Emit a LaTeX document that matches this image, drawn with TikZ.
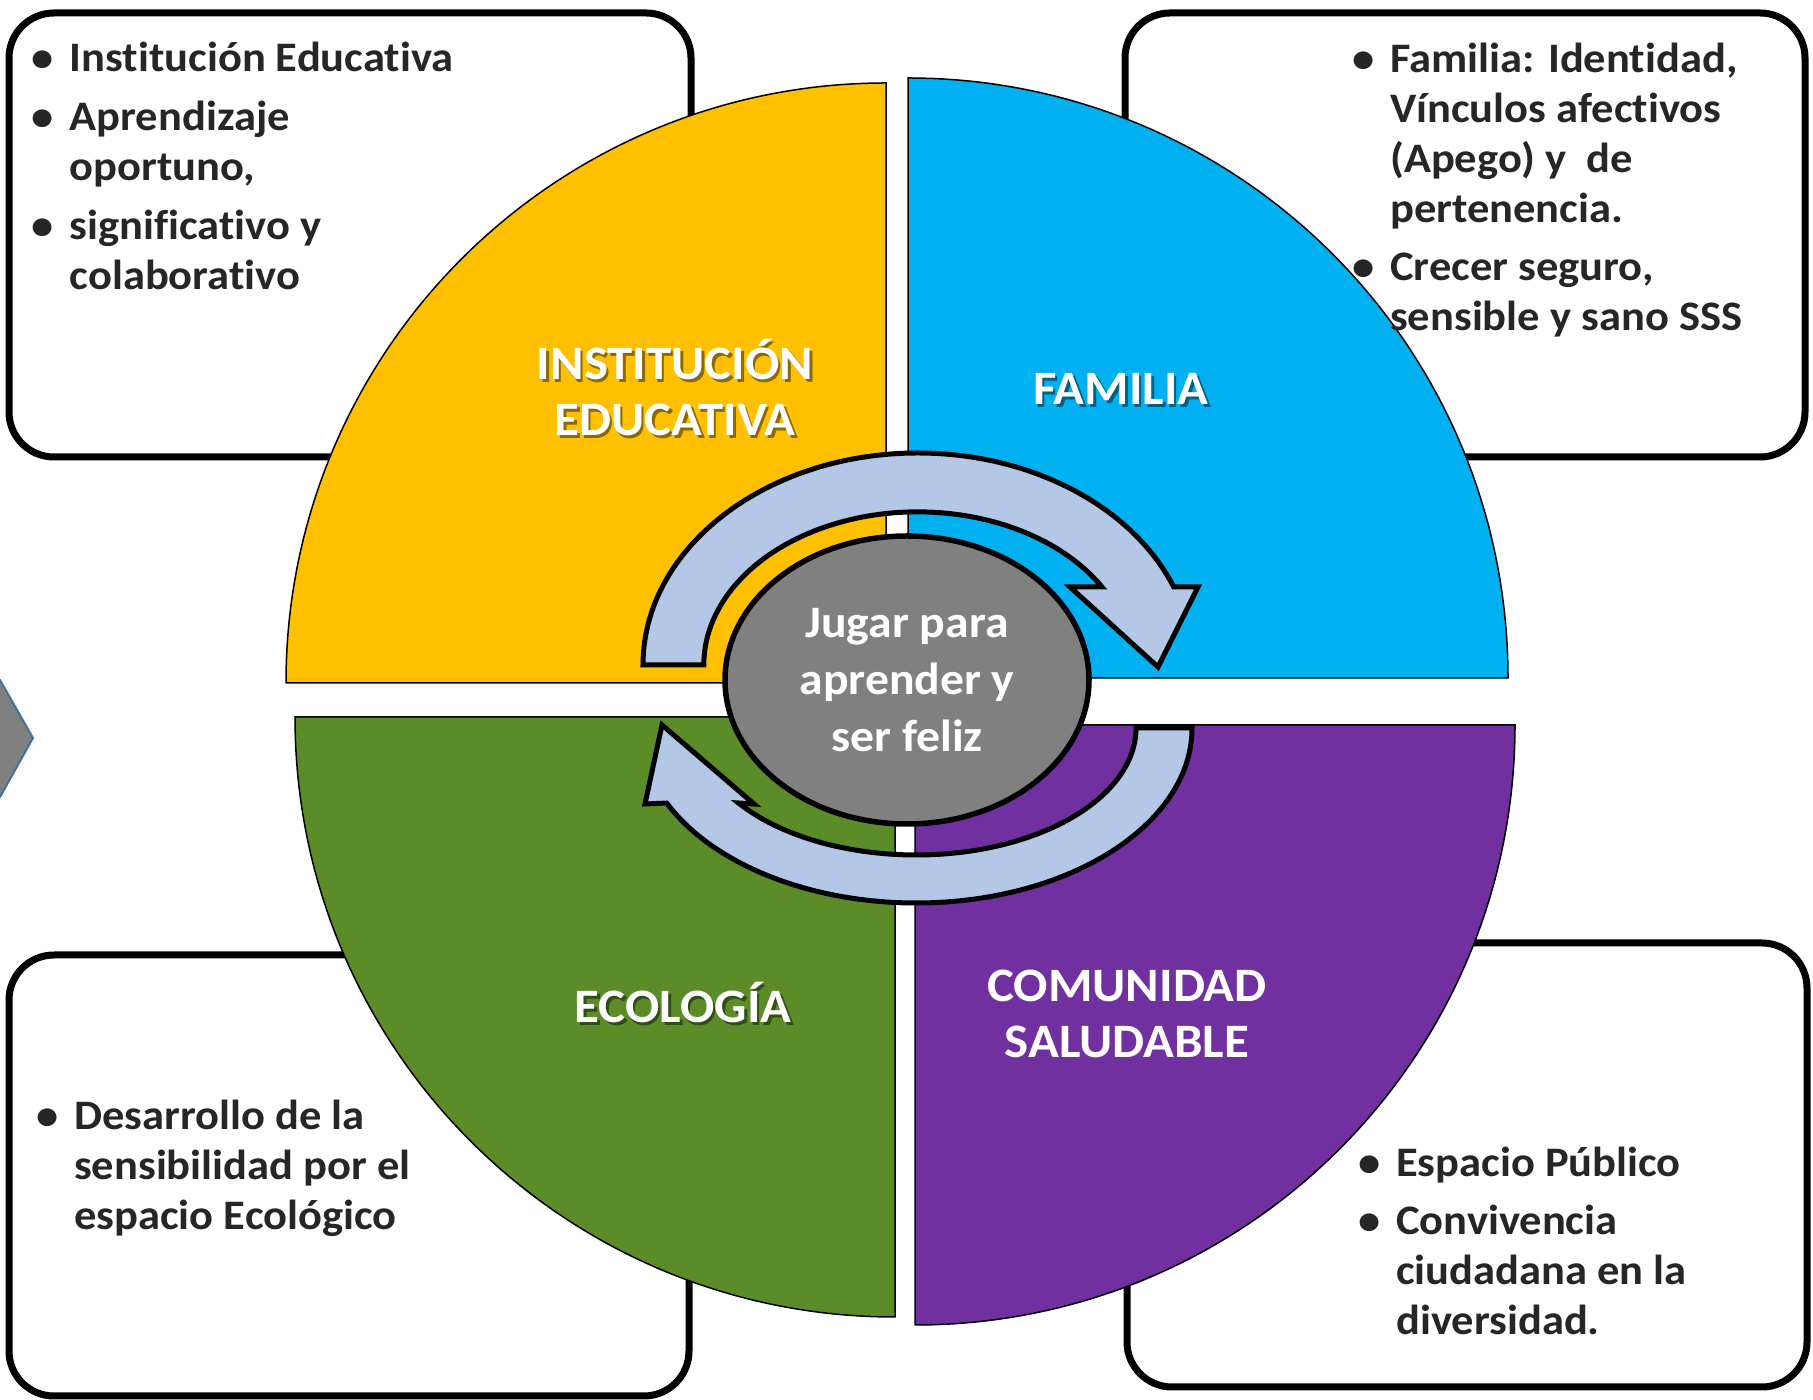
\documentclass[tikz,border=0pt]{standalone}
\usepackage{fontspec}
\setmainfont{Carlito}[FakeStretch=1.06, Ligatures=NoCommon]
\usetikzlibrary{shapes.geometric}
\definecolor{amarillo}{HTML}{FFC000}
\definecolor{celeste}{HTML}{00B0F0}
\definecolor{verde}{HTML}{5B8C27}
\definecolor{morado}{HTML}{7030A0}
\definecolor{flecha}{HTML}{B4C7E7}
\definecolor{texto}{HTML}{262626}
\definecolor{bordeazul}{HTML}{41719C}
\newcommand{\itm}[1]{\makebox[38pt][l]{\textbullet}#1}
\newcommand{\sig}{\hspace*{38pt}}
\newcommand{\sombra}[2]{\rlap{\raisebox{-2.5pt}{\hspace*{2.5pt}\textcolor{#1}{#2}}}#2}

\begin{document}
\begin{tikzpicture}[x=1pt, y=1pt,
    mybox/.style={
    draw=black,
    line width=7pt,
    fill=white,
    rounded corners=45pt,
    inner sep=0pt,
    minimum width=680pt,
    minimum height=444pt},
    myitems/.style={anchor=base west, align=left, inner sep=0pt, text=texto,
    font=\fontsize{42}{50}\selectfont\bfseries},
    myquad/.style={draw=black, line width=1.5pt},
    mylabel/.style={anchor=base, align=center, inner sep=0pt, text=white,
    font=\fontsize{48}{56}\selectfont\bfseries},
    mycenter/.style={
    ellipse,
    draw=black,
    line width=5.5pt,
    fill=gray,
    inner sep=0pt,
    minimum width=364pt,
    minimum height=288pt,
    text=white,
    align=center,
    font=\fontsize{45}{57}\selectfont\bfseries},
    myarrow/.style={draw=black, line width=5pt, fill=flecha, line join=miter}
    ]
    \useasboundingbox (0,0) rectangle (1813,1400);

    \draw[fill=gray, draw=bordeazul, line width=2pt] (-60,720) -- (0,720) -- (33,662) -- (0,603) -- (-60,603) -- cycle;

    \node[mybox, minimum width=682pt] (b1) at (350,1165) {};
    \node[mybox] (b2) at (1465,1165) {};
    \node[mybox, minimum height=441pt] (b3) at (349,224.5) {};
    \node[mybox] (b4) at (1467,235) {};

    \draw[myquad, fill=amarillo] (886,717) -- (286,717) arc[start angle=180, end angle=90, radius=600pt] -- cycle;
    \draw[myquad, fill=celeste] (908,722) -- (908,1322) arc[start angle=90, end angle=0, radius=600pt] -- cycle;
    \draw[myquad, fill=verde] (895,683) -- (295,683) arc[start angle=180, end angle=270, radius=600pt] -- cycle;
    \draw[myquad, fill=morado] (915,675) -- (915,75) arc[start angle=270, end angle=360, radius=600pt] -- cycle;

    \node[myitems] (t1) at (31.5,1110) {\itm{Institución Educativa}\\[9pt]
        \itm{Aprendizaje}\\ \sig oportuno,\\[9pt]
        \itm{significativo y}\\ \sig colaborativo};
    \node[myitems] (t2) at (1352,1069) {\itm{Familia: Identidad,}\\ \sig Vínculos afectivos\\
        \sig (Apego) y\ \ de\\ \sig pertenencia.\\[8pt]
        \itm{Crecer seguro,}\\ \sig sensible y sano SSS};
    \node[myitems] (t3) at (36,170) {\itm{Desarrollo de la}\\ \sig sensibilidad por el\\
        \sig espacio Ecológico};
    \node[myitems] (t4) at (1358,65) {\itm{Espacio Público}\\[8pt]
        \itm{Convivencia}\\ \sig ciudadana en la\\ \sig diversidad.};

    \node[mylabel] (l1) at (675,964) {\sombra{amarillo!55!black}{INSTITUCIÓN}\\\sombra{amarillo!55!black}{EDUCATIVA}};
    \node[mylabel] (l2) at (1121,995) {\sombra{celeste!55!black}{FAMILIA}};
    \node[mylabel] (l3) at (683,377) {\sombra{verde!55!black}{ECOLOGÍA}};
    \node[mylabel] (l4) at (1127,342) {COMUNIDAD\\SALUDABLE};

    \draw[myarrow] (643,735) arc[start angle=180, end angle=21.6, x radius=275pt, y radius=212pt]
        -- (1198,813) -- (1158,733) -- (1070,813) -- (1102,813)
        arc[start angle=30.6, end angle=180, x radius=214pt, y radius=153pt] -- cycle;
    \draw[myarrow] (1192,672) arc[start angle=0, end angle=-154.6, x radius=276pt, y radius=175pt]
        -- (645,596) -- (662,675) -- (754,596) -- (738.5,597)
        arc[start angle=-143.8, end angle=0, x radius=220pt, y radius=127pt] -- cycle;

    \node[mycenter] (c) at (907,720) {Jugar para\\aprender y\\ser feliz};
\end{tikzpicture}
\end{document}
